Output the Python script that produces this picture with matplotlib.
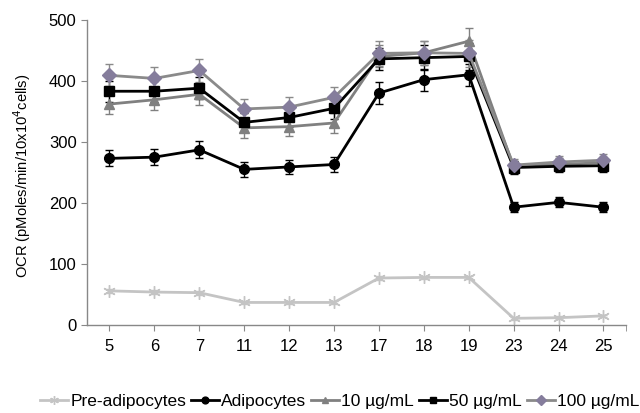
import matplotlib
matplotlib.use("Agg")
import matplotlib.pyplot as plt
from matplotlib.lines import Line2D
import numpy as np

plt.rcParams['font.family'] = ['Liberation Sans', 'DejaVu Sans']

days = ["5", "6", "7", "11", "12", "13", "17", "18", "19", "23", "24", "25"]

pre_adipocytes = [56, 54, 53, 37, 37, 37, 77, 78, 78, 11, 12, 15]
pre_adipocytes_err = [3, 3, 3, 2, 2, 2, 3, 3, 3, 2, 2, 2]

adipocytes = [273, 275, 287, 255, 259, 263, 380, 402, 410, 193, 201, 193]
adipocytes_err = [13, 13, 14, 12, 12, 13, 18, 18, 18, 8, 8, 8]

ug10 = [362, 369, 378, 323, 325, 331, 440, 446, 465, 259, 263, 266]
ug10_err = [17, 17, 18, 16, 16, 16, 18, 20, 22, 10, 10, 10]

ug50 = [383, 383, 388, 332, 340, 355, 436, 438, 440, 258, 260, 261]
ug50_err = [17, 17, 18, 16, 16, 17, 18, 20, 22, 10, 10, 10]

ug100 = [409, 404, 417, 354, 357, 373, 445, 446, 445, 262, 267, 270]
ug100_err = [18, 18, 19, 17, 17, 17, 20, 20, 22, 10, 10, 10]

series = [
    ("Pre-adipocytes", pre_adipocytes, pre_adipocytes_err, "#c4c4c4", (6, 2, 0), "#c4c4c4", 9),
    ("Adipocytes", adipocytes, adipocytes_err, "#000000", "o", "#000000", 7),
    ("10 µg/mL", ug10, ug10_err, "#808080", "^", "#808080", 7),
    ("50 µg/mL", ug50, ug50_err, "#000000", "s", "#000000", 7),
    ("100 µg/mL", ug100, ug100_err, "#8a8a8a", "D", "#857d9c", 7),
]

fig = plt.figure(figsize=(6.4, 4.13), dpi=100)
ax = fig.add_axes([0.136, 0.213, 0.842, 0.739])

x = np.arange(len(days))
handles = []
for label, vals, err, lc, mk, mc, ms in series:
    ax.errorbar(x, vals, yerr=err, color=lc, lw=2, marker=mk, ms=ms,
                mfc=mc, mec=mc, ecolor=lc, elinewidth=1, capsize=3,
                capthick=1)
    handles.append(Line2D([], [], color=lc, lw=2, marker=mk, ms=ms * 0.7,
                          mfc=mc, mec=mc))

ax.set_xlim(-0.5, len(days) - 0.5)
ax.set_ylim(0, 500)
ax.set_yticks([0, 100, 200, 300, 400, 500])
ax.set_xticks(x)
ax.set_xticklabels(days)
ax.set_xticks([len(days) - 0.5], minor=True)
ax.tick_params(axis='both', labelsize=12, color="#888888", length=4)
ax.tick_params(axis='x', which='minor', color="#888888", length=4)
ax.tick_params(axis='x', pad=6)

for s in ["top", "right"]:
    ax.spines[s].set_visible(False)
for s in ["left", "bottom"]:
    ax.spines[s].set_color("#888888")
    ax.spines[s].set_linewidth(1)

ax.set_ylabel("OCR (pMoles/min/10x10$^{4}$cells)", fontsize=10.6)
ax.yaxis.set_label_coords(-0.101, 0.49)

fig.legend(handles=handles, labels=[s[0] for s in series], loc="center",
           bbox_to_anchor=(0.531, 0.028), ncol=5, frameon=False, fontsize=12.5,
           handlelength=1.6, handletextpad=0.12, columnspacing=0.3,
           borderpad=0, borderaxespad=0)

fig.savefig("out.png", dpi=100)
